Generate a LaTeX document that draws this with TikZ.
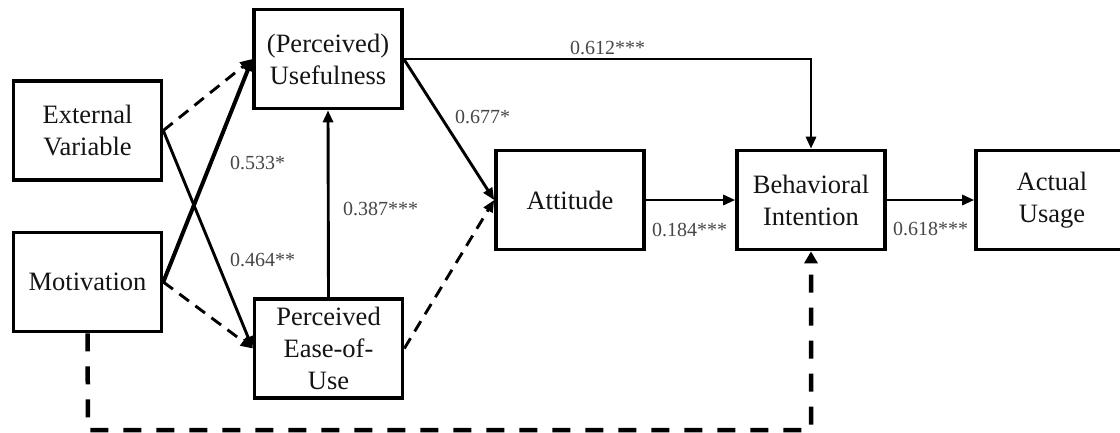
\documentclass[tikz,border=0pt]{standalone}
\usepackage{fontspec}
\setmainfont{Liberation Serif}
\usetikzlibrary{arrows.meta}
\begin{document}
\begin{tikzpicture}[x=1pt,y=-1pt,
  box/.style={draw=black,line width=3.6pt,inner sep=0pt,minimum width=148pt,minimum height=99pt,align=center,font=\fontsize{26.5}{32}\selectfont,text=black!92},
  lbl/.style={anchor=west,inner sep=0pt,font=\fontsize{20}{24}\selectfont,text=black!72},
  arr/.style={line width=2.9pt,-{Triangle[length=12pt,width=10pt]}},
  darr/.style={arr,dash pattern=on 12pt off 8pt},
  bigdash/.style={line width=4.5pt,dash pattern=on 18pt off 15pt,-{Triangle[length=12pt,width=13pt]}}]
\useasboundingbox (0,0) rectangle (1120,432);
\clip (0,0) rectangle (1120,432);
\fill[white] (0,0) rectangle (1120,432);
\node[box] (ext) at (87.5,130.5) {External\\Variable};
\node[box] (mot) at (87.5,282) {Motivation};
\node[box] (use) at (328,59) {(Perceived)\\Usefulness};
\node[box] (ease) at (328.5,348.5) {Perceived\\Ease-of-\\Use};
\node[box] (att) at (570,200) {Attitude};
\node[box] (bi) at (811,200) {Behavioral\\Intention};
\node[box,minimum width=152pt] (au) at (1052,200) {Actual\\Usage};
\coordinate (c1) at (88,430);
\coordinate (c2) at (811,430);
% connectors
\draw[darr] (ext.east) -- (use.west);
\draw[arr] (ext.east) -- (ease.west);
\draw[arr,line width=4pt] (mot.east) -- (use.west);
\draw[darr] (mot.east) -- (ease.west);
\draw[arr] (ease.north) -- (use.south);
\draw[arr] (use.east) -- (att.west);
\draw[darr] (ease.east) -- (att.west);
\draw[arr] (use.east) -| (bi.north);
\draw[arr] (att.east) -- (bi.west);
\draw[arr] (bi.east) -- (au.west);
\draw[bigdash] (mot.south) -- (c1) -- (c2) -- (bi.south);
% labels
\node[lbl] (l1) at (230,163) {0.533*};
\node[lbl] (l2) at (230,260) {0.464**};
\node[lbl] (l3) at (343,209) {0.387***};
\node[lbl] (l4) at (570,48) {0.612***};
\node[lbl] (l5) at (455,117) {0.677*};
\node[lbl] (l6) at (652,230) {0.184***};
\node[lbl] (l7) at (893,229) {0.618***};
\end{tikzpicture}
\end{document}
